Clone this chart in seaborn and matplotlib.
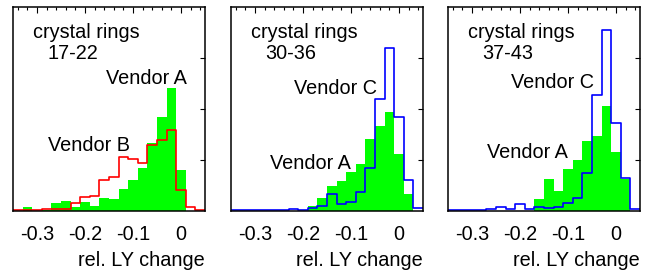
import numpy as np
import matplotlib
matplotlib.use("Agg")
import matplotlib.pyplot as plt
from matplotlib.ticker import MultipleLocator
import seaborn as sns

sns.set_style("white")
plt.rcParams["font.family"] = ["Liberation Sans", "DejaVu Sans"]
plt.rcParams["axes.unicode_minus"] = False
plt.rcParams["text.color"] = "black"
plt.rcParams["axes.labelcolor"] = "black"
plt.rcParams["xtick.color"] = "black"
plt.rcParams["ytick.color"] = "black"

# bin edges of the histograms (rel. LY change)
bin_edges = [-0.35, -0.33, -0.31, -0.29, -0.27, -0.25, -0.23, -0.21, -0.19, -0.17,
             -0.15, -0.13, -0.11, -0.09, -0.07, -0.05, -0.03, -0.01, 0.01, 0.03, 0.05]

# crystal rings 17-22
ring1_vendor_a = [0, 0.07, 0, 0.02, 0.16, 0.20, 0.08, 0.18, 0.10, 0.25,
                  0.24, 0.43, 0.61, 0.85, 1.33, 1.84, 2.42, 0.80, 0, 0]
ring1_vendor_b = [0.01, 0.01, 0.01, 0.03, 0.03, 0.03, 0.15, 0.27, 0.30, 0.61,
                  0.67, 1.06, 1.03, 0.95, 1.29, 1.40, 1.60, 0.42, 0.07, 0.01]

# crystal rings 30-36
ring2_vendor_a = [0, 0, 0, 0, 0, 0, 0, 0, 0.09, 0.26,
                  0.50, 0.59, 0.76, 0.93, 1.41, 1.67, 1.94, 1.12, 0.33, 0]
ring2_vendor_c = [0.01, 0.01, 0.01, 0.01, 0.01, 0.01, 0.04, 0.01, 0.05, 0.10,
                  0.33, 0.13, 0.17, 0.38, 0.84, 2.20, 3.20, 1.85, 0.60, 0.05]

# crystal rings 37-43
ring3_vendor_a = [0, 0, 0, 0, 0, 0, 0, 0, 0, 0.24,
                  0.62, 0.39, 0.83, 1.00, 1.37, 1.47, 2.06, 1.16, 0.62, 0]
ring3_vendor_c = [0.01, 0.01, 0.01, 0.01, 0.04, 0.07, 0.03, 0.13, 0.04, 0.07,
                  0.05, 0.08, 0.15, 0.26, 0.75, 2.28, 3.56, 1.72, 0.64, 0.03]

ring_labels = ["17-22", "30-36", "37-43"]
second_colors = ["red", "blue", "blue"]

centers = (np.array(bin_edges[:-1]) + np.array(bin_edges[1:])) / 2

fig = plt.figure(figsize=(6.57, 2.71), dpi=100)
lefts = [13, 231, 448]
axes = [fig.add_axes([l / 657, 1 - 211 / 271, 192 / 657, 203.7 / 271]) for l in lefts]

green = [ring1_vendor_a, ring2_vendor_a, ring3_vendor_a]
other = [ring1_vendor_b, ring2_vendor_c, ring3_vendor_c]

fs = 14.3
for i, ax in enumerate(axes):
    sns.histplot(x=centers, weights=green[i], bins=bin_edges, ax=ax,
                 element="bars", color="#00ff00", alpha=1, linewidth=0)
    sns.histplot(x=centers, weights=other[i], bins=bin_edges, ax=ax,
                 element="step", fill=False, color=second_colors[i], linewidth=1.2)
    ax.set_xlim(-0.35, 0.05)
    ax.set_ylim(0, 4)
    ax.set_ylabel("")
    ax.set_xticks([-0.3, -0.2, -0.1, 0])
    ax.set_xticklabels(["-0.3", "-0.2", "-0.1", "0"], fontsize=fs)
    ax.xaxis.set_minor_locator(MultipleLocator(0.02))
    ax.set_yticks([1, 2, 3])
    ax.set_yticklabels([])
    ax.tick_params(which="both", direction="in", top=True, right=True, width=0.8)
    ax.tick_params(which="major", length=4, pad=10)
    ax.tick_params(which="minor", length=2.5)
    ax.tick_params(axis="y", which="major", length=3.5)
    for s in ax.spines.values():
        s.set_color("black")
        s.set_linewidth(1.1)
    ax.set_xlabel("rel. LY change", loc="right", fontsize=fs, labelpad=5)
    ax.text(-0.308, 3.51, "crystal rings", fontsize=fs, va="center", ha="left")
    ax.text(-0.278, 3.10, ring_labels[i], fontsize=fs, va="center", ha="left")

axes[0].text(-0.156, 2.61, "Vendor A", fontsize=fs, va="center")
axes[0].text(-0.277, 1.29, "Vendor B", fontsize=fs, va="center")
axes[1].text(-0.219, 2.41, "Vendor C", fontsize=fs, va="center")
axes[1].text(-0.269, 0.94, "Vendor A", fontsize=fs, va="center")
axes[2].text(-0.219, 2.53, "Vendor C", fontsize=fs, va="center")
axes[2].text(-0.269, 1.14, "Vendor A", fontsize=fs, va="center")

fig.savefig("out.png", dpi=100)
